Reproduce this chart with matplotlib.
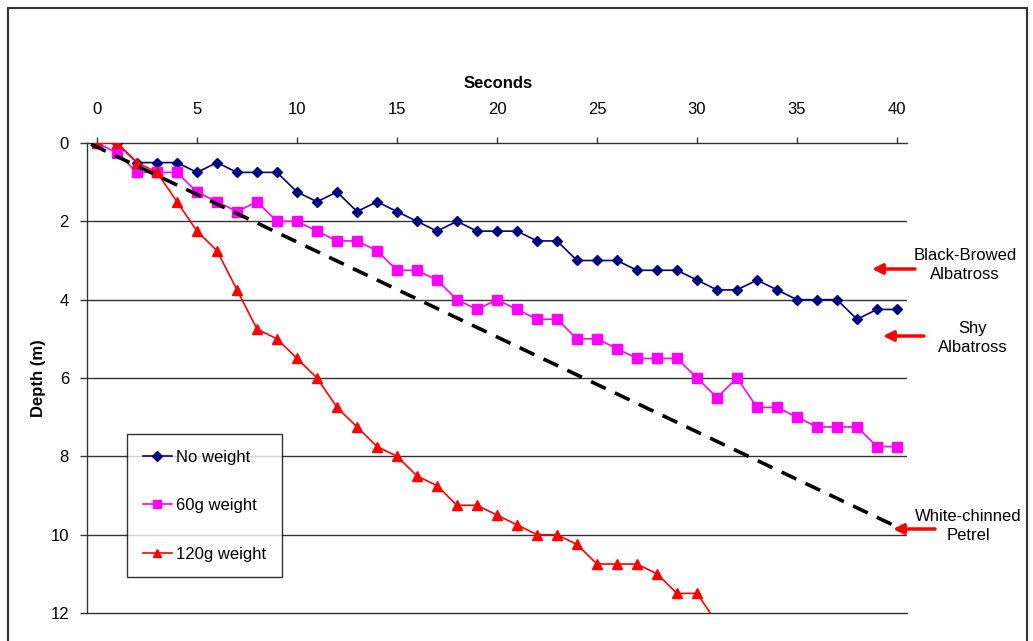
import matplotlib
matplotlib.use("Agg")
import matplotlib.pyplot as plt
from matplotlib.patches import Rectangle, FancyArrowPatch

plt.rcParams['font.family'] = ['Liberation Sans', 'DejaVu Sans']

# ---- data ----
seconds = list(range(0, 41))
no_weight = [0, 0, 0.5, 0.5, 0.5, 0.75, 0.5, 0.75, 0.75, 0.75, 1.25, 1.5, 1.25, 1.75, 1.5,
             1.75, 2.0, 2.25, 2.0, 2.25, 2.25, 2.25, 2.5, 2.5, 3.0, 3.0, 3.0, 3.25, 3.25, 3.25,
             3.5, 3.75, 3.75, 3.5, 3.75, 4.0, 4.0, 4.0, 4.5, 4.25, 4.25]
w60 = [0, 0.25, 0.75, 0.75, 0.75, 1.25, 1.5, 1.75, 1.5, 2.0, 2.0, 2.25, 2.5, 2.5, 2.75,
       3.25, 3.25, 3.5, 4.0, 4.25, 4.0, 4.25, 4.5, 4.5, 5.0, 5.0, 5.25, 5.5, 5.5, 5.5,
       6.0, 6.5, 6.0, 6.75, 6.75, 7.0, 7.25, 7.25, 7.25, 7.75, 7.75]
seconds120 = list(range(0, 32))
w120 = [0, 0, 0.5, 0.75, 1.5, 2.25, 2.75, 3.75, 4.75, 5.0, 5.5, 6.0, 6.75, 7.25, 7.75,
        8.0, 8.5, 8.75, 9.25, 9.25, 9.5, 9.75, 10.0, 10.0, 10.25, 10.75, 10.75, 10.75, 11.0,
        11.5, 11.5, 12.25]
labels = ["No weight", "60g weight", "120g weight"]
dash_x = [-0.3, 40]
dash_y = [0.03, 9.8]
x_ticks = [0, 5, 10, 15, 20, 25, 30, 35, 40]
y_ticks = [0, 2, 4, 6, 8, 10, 12]
species = ["Black-Browed\nAlbatross", "Shy\nAlbatross", "White-chinned\nPetrel"]

W, H = 1033, 641
fig = plt.figure(figsize=(W / 100, H / 100), dpi=100)

def fx(px):
    return px / W

def fy(py):
    return 1 - py / H

# chart-area border
fig.patches.append(Rectangle((fx(8), fy(660)), fx(1027) - fx(8), fy(8) - fy(660),
                             transform=fig.transFigure, fill=False,
                             edgecolor='#333333', linewidth=1.5))

ax = fig.add_axes([fx(87), fy(613), fx(907) - fx(87), fy(143) - fy(613)])
ax.set_xlim(-0.5, 40.5)
ax.set_ylim(12, 0)

for y in y_ticks[1:-1]:
    ax.axhline(y, color='#333333', lw=1.0, zorder=1)

l1, = ax.plot(seconds, no_weight, color='#000080', marker='D', markersize=5.5, lw=1.2,
              zorder=3, label=labels[0])
l2, = ax.plot(seconds, w60, color='#FF00FF', marker='s', markersize=7, lw=1.2,
              zorder=3, label=labels[1])
l3, = ax.plot(seconds120, w120, color='#FF0000', marker='^', markersize=7.5, lw=1.2,
              zorder=3, label=labels[2])
ax.plot(dash_x, dash_y, color='black', lw=2.6, dashes=(4.5, 2.8), zorder=4)

ax.xaxis.tick_top()
ax.set_xticks(x_ticks)
ax.set_yticks(y_ticks)
ax.tick_params(axis='x', direction='out', length=4, width=1, color='#333333',
               labelsize=12, pad=15)
ax.tick_params(axis='y', direction='out', length=5, width=1, color='#333333',
               labelsize=12, pad=8)
ax.spines['right'].set_visible(False)
for side in ['left', 'top', 'bottom']:
    ax.spines[side].set_color('#333333')
    ax.spines[side].set_linewidth(1.0)

fig.text(fx(498), fy(84), "Seconds", ha='center', va='center', fontsize=12, fontweight='bold')
fig.text(fx(39), fy(378), "Depth (m)", ha='center', va='center', fontsize=12,
         fontweight='bold', rotation=90)

leg = fig.legend(handles=[l1, l2, l3], loc='upper left',
                 bbox_to_anchor=(fx(127), fy(434)), bbox_transform=fig.transFigure,
                 borderaxespad=0, fontsize=12, frameon=True, fancybox=False,
                 handlelength=1.75, handletextpad=0.25, labelspacing=2.0,
                 borderpad=0.95, markerscale=0.85)
leg.get_frame().set_edgecolor('black')
leg.get_frame().set_linewidth(1.0)

# arrows and species labels
arrows = [((872, 269), (915, 269)), ((883, 336), (924, 336)), ((893, 529), (935, 529))]
text_pos = [(965, 265), (973, 338), (968, 526)]
for (tip, tail), name, (tx, ty) in zip(arrows, species, text_pos):
    fig.add_artist(FancyArrowPatch(
        (fx(tail[0]), fy(tail[1])), (fx(tip[0]), fy(tip[1])),
        transform=fig.transFigure, arrowstyle='-|>,head_length=6,head_width=3',
        color='#FF0000', lw=2.5, mutation_scale=1, shrinkA=0, shrinkB=0))
    fig.text(fx(tx), fy(ty), name, ha='center', va='center', fontsize=12,
             linespacing=1.3, multialignment='center')

fig.savefig("out.png", dpi=100)
